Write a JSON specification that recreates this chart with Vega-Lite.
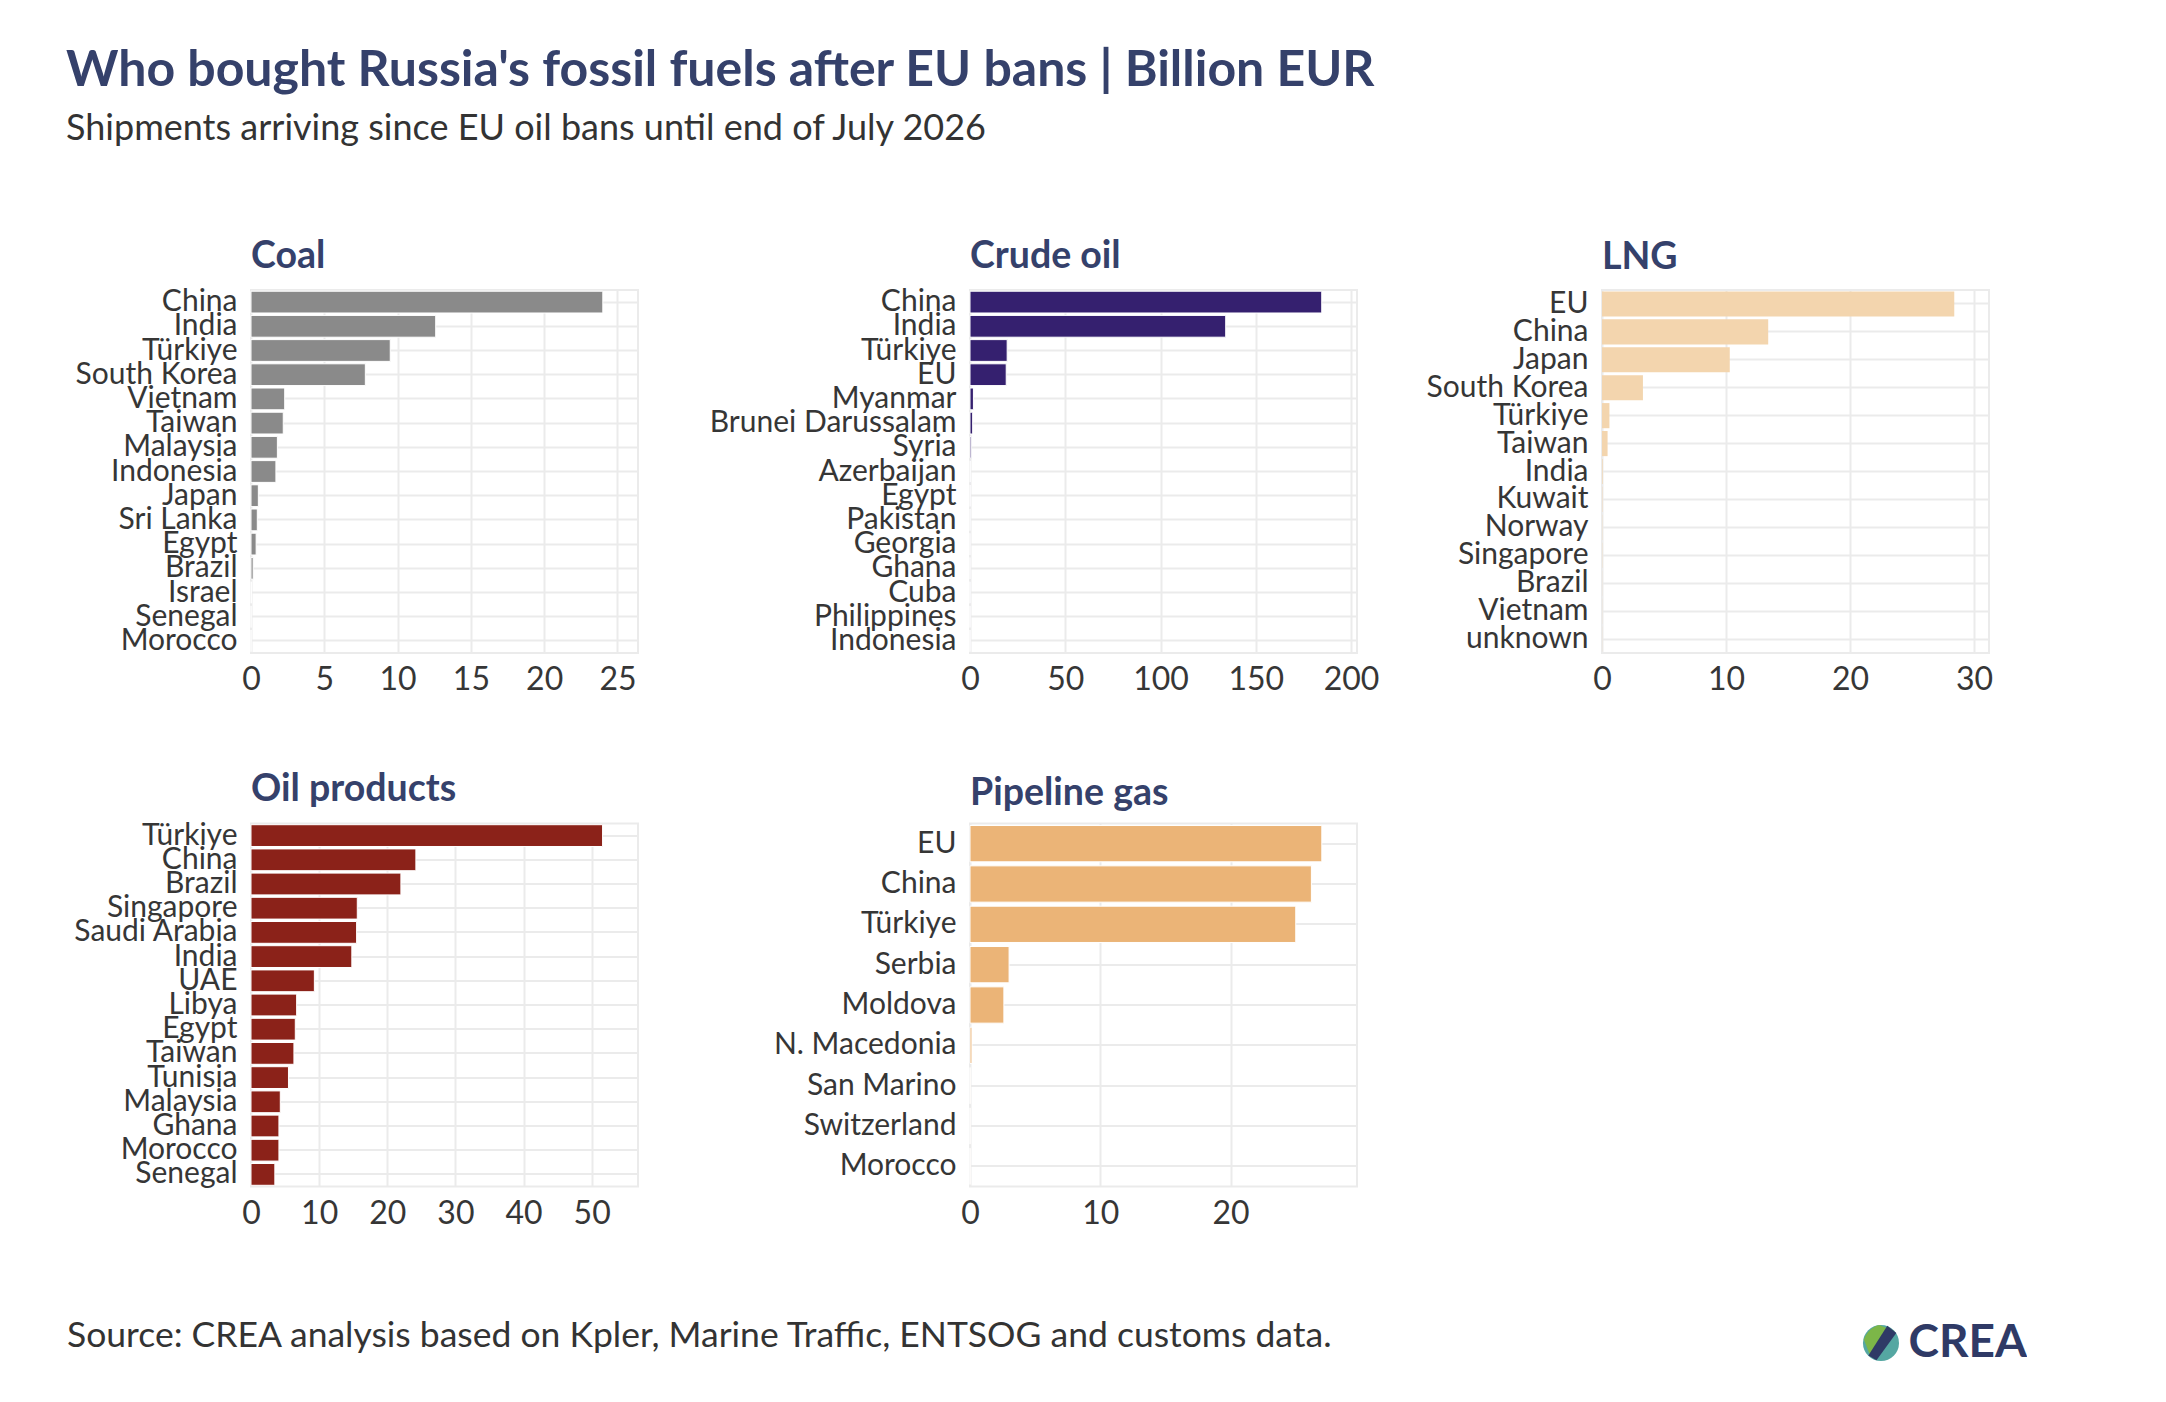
{
  "$schema": "https://vega.github.io/schema/vega-lite/v6.json",
  "padding": {"left": 66, "top": 45, "right": 0, "bottom": 0},
  "background": "white",
  "datasets": {
    "fuels": [
      {"fuel": "Coal", "country": "China", "value": 24.0},
      {"fuel": "Coal", "country": "India", "value": 12.6},
      {"fuel": "Coal", "country": "Türkiye", "value": 9.5},
      {"fuel": "Coal", "country": "South Korea", "value": 7.8},
      {"fuel": "Coal", "country": "Vietnam", "value": 2.3},
      {"fuel": "Coal", "country": "Taiwan", "value": 2.2},
      {"fuel": "Coal", "country": "Malaysia", "value": 1.8},
      {"fuel": "Coal", "country": "Indonesia", "value": 1.7},
      {"fuel": "Coal", "country": "Japan", "value": 0.5},
      {"fuel": "Coal", "country": "Sri Lanka", "value": 0.43},
      {"fuel": "Coal", "country": "Egypt", "value": 0.35},
      {"fuel": "Coal", "country": "Brazil", "value": 0.15},
      {"fuel": "Coal", "country": "Israel", "value": 0.03},
      {"fuel": "Coal", "country": "Senegal", "value": 0.02},
      {"fuel": "Coal", "country": "Morocco", "value": 0.01},
      {"fuel": "Crude oil", "country": "China", "value": 184.6},
      {"fuel": "Crude oil", "country": "India", "value": 134.2},
      {"fuel": "Crude oil", "country": "Türkiye", "value": 19.5},
      {"fuel": "Crude oil", "country": "EU", "value": 19.0},
      {"fuel": "Crude oil", "country": "Myanmar", "value": 1.8},
      {"fuel": "Crude oil", "country": "Brunei Darussalam", "value": 1.4},
      {"fuel": "Crude oil", "country": "Syria", "value": 0.6},
      {"fuel": "Crude oil", "country": "Azerbaijan", "value": 0.3},
      {"fuel": "Crude oil", "country": "Egypt", "value": 0.2},
      {"fuel": "Crude oil", "country": "Pakistan", "value": 0.15},
      {"fuel": "Crude oil", "country": "Georgia", "value": 0.1},
      {"fuel": "Crude oil", "country": "Ghana", "value": 0.08},
      {"fuel": "Crude oil", "country": "Cuba", "value": 0.06},
      {"fuel": "Crude oil", "country": "Philippines", "value": 0.05},
      {"fuel": "Crude oil", "country": "Indonesia", "value": 0.04},
      {"fuel": "LNG", "country": "EU", "value": 28.4},
      {"fuel": "LNG", "country": "China", "value": 13.4},
      {"fuel": "LNG", "country": "Japan", "value": 10.3},
      {"fuel": "LNG", "country": "South Korea", "value": 3.3},
      {"fuel": "LNG", "country": "Türkiye", "value": 0.6},
      {"fuel": "LNG", "country": "Taiwan", "value": 0.45},
      {"fuel": "LNG", "country": "India", "value": 0.05},
      {"fuel": "LNG", "country": "Kuwait", "value": 0.03},
      {"fuel": "LNG", "country": "Norway", "value": 0.02},
      {"fuel": "LNG", "country": "Singapore", "value": 0.02},
      {"fuel": "LNG", "country": "Brazil", "value": 0.01},
      {"fuel": "LNG", "country": "Vietnam", "value": 0.01},
      {"fuel": "LNG", "country": "unknown", "value": 0.01},
      {"fuel": "Oil products", "country": "Türkiye", "value": 51.6},
      {"fuel": "Oil products", "country": "China", "value": 24.2},
      {"fuel": "Oil products", "country": "Brazil", "value": 22.0},
      {"fuel": "Oil products", "country": "Singapore", "value": 15.6},
      {"fuel": "Oil products", "country": "Saudi Arabia", "value": 15.5},
      {"fuel": "Oil products", "country": "India", "value": 14.8},
      {"fuel": "Oil products", "country": "UAE", "value": 9.3},
      {"fuel": "Oil products", "country": "Libya", "value": 6.7},
      {"fuel": "Oil products", "country": "Egypt", "value": 6.5},
      {"fuel": "Oil products", "country": "Taiwan", "value": 6.3},
      {"fuel": "Oil products", "country": "Tunisia", "value": 5.5},
      {"fuel": "Oil products", "country": "Malaysia", "value": 4.3},
      {"fuel": "Oil products", "country": "Ghana", "value": 4.1},
      {"fuel": "Oil products", "country": "Morocco", "value": 4.1},
      {"fuel": "Oil products", "country": "Senegal", "value": 3.5},
      {"fuel": "Pipeline gas", "country": "EU", "value": 27.0},
      {"fuel": "Pipeline gas", "country": "China", "value": 26.2},
      {"fuel": "Pipeline gas", "country": "Türkiye", "value": 25.0},
      {"fuel": "Pipeline gas", "country": "Serbia", "value": 3.0},
      {"fuel": "Pipeline gas", "country": "Moldova", "value": 2.6},
      {"fuel": "Pipeline gas", "country": "N. Macedonia", "value": 0.15},
      {"fuel": "Pipeline gas", "country": "San Marino", "value": 0.02},
      {"fuel": "Pipeline gas", "country": "Switzerland", "value": 0.01},
      {"fuel": "Pipeline gas", "country": "Morocco", "value": 0.01}
    ],
    "footer": [
      {"label": "Source: CREA analysis based on Kpler, Marine Traffic, ENTSOG and customs data.", "pos": 0},
      {"label": "CREA", "pos": 1}
    ],
    "logo": [
      {"part": "base", "pos": 0.9255},
      {"part": "green", "pos": 0.9255},
      {"part": "navy", "pos": 0.9255}
    ]
  },
  "config": {
    "font": "Lato",
    "view": {"stroke": "#ebebeb", "strokeWidth": 2},
    "axis": {
      "labelFont": "Lato",
      "labelColor": "#363636",
      "domain": false,
      "ticks": false,
      "grid": true,
      "gridColor": "#ebebeb",
      "gridWidth": 2,
      "title": null,
      "labelLimit": 0
    },
    "axisX": {"labelFontSize": 32, "labelFlush": false, "labelPadding": 11.5, "labelOverlap": false},
    "axisY": {"labelFontSize": 30, "labelPadding": 14, "bandPosition": 0.5, "labelOverlap": false},
    "title": {"font": "Lato"}
  },
  "title": {
    "text": "Who bought Russia's fossil fuels after EU bans | Billion EUR",
    "subtitle": "Shipments arriving since EU oil bans until end of July 2026",
    "anchor": "start",
    "frame": "bounds",
    "fontSize": 50,
    "fontWeight": "bold",
    "color": "#35416b",
    "subtitleFont": "Lato",
    "subtitleFontSize": 36,
    "subtitleColor": "#333333",
    "subtitlePadding": 16,
    "offset": 90
  },
  "spacing": 72.5,
  "vconcat": [
    {
      "spacing": 0,
      "resolve": {"scale": {"x": "independent", "y": "independent"}},
      "hconcat": [
        {
          "width": 387, "height": 363,
          "title": {"text": "Coal", "anchor": "start", "frame": "group", "fontSize": 37.5, "fontWeight": "bold", "color": "#35416b", "offset": 11.5},
          "data": {"name": "fuels"},
          "transform": [{"filter": "datum.fuel === 'Coal'"}],
          "mark": {"type": "bar", "color": "#8a8a8a", "stroke": "white", "strokeWidth": 1},
          "encoding": {
            "y": {"field": "country", "type": "nominal", "sort": null, "scale": {"paddingInner": 0.1, "paddingOuter": 0.05}, "axis": {"minExtent": 184}},
            "x": {"field": "value", "type": "quantitative", "scale": {"domain": [0, 26.4], "nice": false}, "axis": {"values": [0, 5, 10, 15, 20, 25]}}
          }
        },
        {
          "width": 387, "height": 363,
          "title": {"text": "Crude oil", "anchor": "start", "frame": "group", "fontSize": 37.5, "fontWeight": "bold", "color": "#35416b", "offset": 11.5},
          "data": {"name": "fuels"},
          "transform": [{"filter": "datum.fuel === 'Crude oil'"}],
          "mark": {"type": "bar", "color": "#35206f", "stroke": "white", "strokeWidth": 1},
          "encoding": {
            "y": {"field": "country", "type": "nominal", "sort": null, "scale": {"paddingInner": 0.1, "paddingOuter": 0.05}, "axis": {"minExtent": 330}},
            "x": {"field": "value", "type": "quantitative", "scale": {"domain": [0, 203.1], "nice": false}, "axis": {"values": [0, 50, 100, 150, 200]}}
          }
        },
        {
          "width": 387, "height": 363,
          "title": {"text": "LNG", "anchor": "start", "frame": "group", "fontSize": 37.5, "fontWeight": "bold", "color": "#35416b", "offset": 11.5},
          "data": {"name": "fuels"},
          "transform": [{"filter": "datum.fuel === 'LNG'"}],
          "mark": {"type": "bar", "color": "#f3d5ae"},
          "encoding": {
            "y": {"field": "country", "type": "nominal", "sort": null, "scale": {"paddingInner": 0.1, "paddingOuter": 0.05}, "axis": {"minExtent": 221}},
            "x": {"field": "value", "type": "quantitative", "scale": {"domain": [0, 31.2], "nice": false}, "axis": {"values": [0, 10, 20, 30]}}
          }
        }
      ]
    },
    {
      "spacing": 0,
      "resolve": {"scale": {"x": "independent", "y": "independent"}},
      "hconcat": [
        {
          "width": 387, "height": 363,
          "title": {"text": "Oil products", "anchor": "start", "frame": "group", "fontSize": 37.5, "fontWeight": "bold", "color": "#35416b", "offset": 11.5},
          "data": {"name": "fuels"},
          "transform": [{"filter": "datum.fuel === 'Oil products'"}],
          "mark": {"type": "bar", "color": "#8b2219", "stroke": "white", "strokeWidth": 1},
          "encoding": {
            "y": {"field": "country", "type": "nominal", "sort": null, "scale": {"paddingInner": 0.1, "paddingOuter": 0.05}, "axis": {"minExtent": 184}},
            "x": {"field": "value", "type": "quantitative", "scale": {"domain": [0, 56.8], "nice": false}, "axis": {"values": [0, 10, 20, 30, 40, 50]}}
          }
        },
        {
          "width": 387, "height": 363,
          "title": {"text": "Pipeline gas", "anchor": "start", "frame": "group", "fontSize": 37.5, "fontWeight": "bold", "color": "#35416b", "offset": 11.5},
          "data": {"name": "fuels"},
          "transform": [{"filter": "datum.fuel === 'Pipeline gas'"}],
          "mark": {"type": "bar", "color": "#ebb477", "stroke": "white", "strokeWidth": 1},
          "encoding": {
            "y": {"field": "country", "type": "nominal", "sort": null, "scale": {"paddingInner": 0.1, "paddingOuter": 0.05}, "axis": {"minExtent": 330}},
            "x": {"field": "value", "type": "quantitative", "scale": {"domain": [0, 29.7], "nice": false}, "axis": {"values": [0, 10, 20]}}
          }
        }
      ]
    },
    {
      "width": 1776, "height": 66,
      "view": {"stroke": null},
      "resolve": {"scale": {"x": "shared"}},
      "layer": [
        {
          "data": {"name": "footer"},
          "transform": [{"filter": "datum.pos === 0"}],
          "mark": {"type": "text", "align": "left", "baseline": "middle", "font": "Lato", "fontSize": 35.5, "color": "#333333"},
          "encoding": {
            "x": {"field": "pos", "type": "quantitative", "scale": {"domain": [0, 1], "range": [-184, 1776], "nice": false, "zero": false}, "axis": null},
            "text": {"field": "label"}
          }
        },
        {
          "data": {"name": "footer"},
          "transform": [{"filter": "datum.pos === 1"}],
          "mark": {"type": "text", "align": "right", "baseline": "middle", "dy": 7, "font": "Lato", "fontSize": 46, "fontWeight": "bold", "color": "#2f3a66"},
          "encoding": {
            "x": {"field": "pos", "type": "quantitative", "axis": null},
            "text": {"field": "label"}
          }
        },
        {
          "data": {"name": "logo"},
          "transform": [{"filter": "datum.part === 'base'"}],
          "mark": {"type": "point", "shape": "circle", "filled": true, "size": 1300, "color": "#55a7a2", "opacity": 1, "yOffset": 7},
          "encoding": {
            "x": {"field": "pos", "type": "quantitative", "axis": null}
          }
        },
        {
          "data": {"name": "logo"},
          "transform": [{"filter": "datum.part === 'green'"}],
          "mark": {"type": "point", "shape": "M -0.95 -0.2 C -0.8 -0.6 -0.5 -0.9 -0.1 -1 L 0.75 -0.65 L -0.6 0.7 Z", "filled": true, "size": 1300, "color": "#7cb648", "opacity": 1, "yOffset": 7},
          "encoding": {
            "x": {"field": "pos", "type": "quantitative", "axis": null}
          }
        },
        {
          "data": {"name": "logo"},
          "transform": [{"filter": "datum.part === 'navy'"}],
          "mark": {"type": "point", "shape": "M 0.35 -0.95 L 0.85 -0.55 L -0.25 0.95 L -0.7 0.7 Z", "filled": true, "size": 1300, "color": "#2f3a66", "opacity": 1, "yOffset": 7},
          "encoding": {
            "x": {"field": "pos", "type": "quantitative", "axis": null}
          }
        }
      ]
    }
  ]
}
